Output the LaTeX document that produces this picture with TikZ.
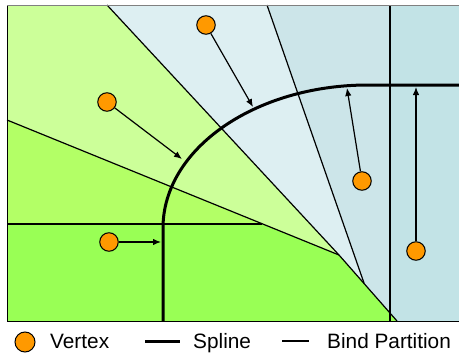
\documentclass[tikz,border=0pt]{standalone}
\usepackage{fontspec}
\setmainfont{Liberation Sans}
\usetikzlibrary{arrows.meta}
\definecolor{gA}{RGB}{204,255,153}
\definecolor{gB}{RGB}{179,255,102}
\definecolor{gC}{RGB}{153,255,85}
\definecolor{bD}{RGB}{221,239,242}
\definecolor{bE}{RGB}{204,229,233}
\definecolor{bF}{RGB}{194,227,230}
\definecolor{vorange}{RGB}{255,153,0}
\begin{document}
\begin{tikzpicture}[x=1pt,y=-1pt,
  part/.style={line width=1.2pt, black},
  splinestyle/.style={line width=3pt, black},
  vtx/.style={circle, draw=black, fill=vorange, line width=1pt, minimum size=18.5pt, inner sep=0pt},
  arr/.style={line width=1.2pt, -{Latex[length=8pt,width=6.5pt]}},
  lbl/.style={anchor=base west, font=\fontsize{20.8}{24}\selectfont, inner sep=0pt}]
\useasboundingbox (0,0) rectangle (459,356);
% regions
\fill[bF] (7,5) rectangle (459,321);
\fill[bE] (267,5) -- (390,5) -- (390,313) -- (364,283) -- cycle;
\fill[bD] (107,5) -- (267,5) -- (364,283) -- (339,255) -- cycle;
\fill[gA] (7,5) -- (107,5) -- (339,255) -- (7,120) -- cycle;
\fill[gB] (7,120) -- (262,224) -- (7,224) -- cycle;
\fill[gC] (7,224) -- (262,224) -- (339,255) -- (397,321) -- (7,321) -- cycle;
% bind partitions
\draw[part] (107,5) -- (339,255);
\draw[part] (7,120) -- (339,255);
\draw[part] (7,224) -- (262,224);
\draw[part] (267,5) -- (364,283);
\draw[part] (339,255) -- (397,321);
\draw[part] (390,5) -- (390,321);
% spline
\draw[splinestyle] (163,321) -- (163,228) .. controls (163,149) and (255,85) .. (368,85) -- (459,85);
% frame
\draw[black, line width=1pt] (459,321) -- (7,321) -- (7,5);
\draw[gray, line width=1pt] (7,5) -- (459,5);
% vertices
\node[vtx] (v1) at (206,25) {};
\node[vtx] (v2) at (107,102) {};
\node[vtx] (v3) at (109,242) {};
\node[vtx] (v4) at (362,181) {};
\node[vtx] (v5) at (416,251) {};
\coordinate (t1) at (253,107);
\coordinate (t2) at (182,159);
\coordinate (t3) at (161,242);
\coordinate (t4) at (347,88);
\coordinate (t5) at (416,87);
\draw[arr] (v1) -- (t1);
\draw[arr] (v2) -- (t2);
\draw[arr] (v3) -- (t3);
\draw[arr] (v4) -- (t4);
\draw[arr] (v5) -- (t5);
% legend
\node[vtx, minimum size=20pt] (lv) at (25,342) {};
\node[lbl] (lvt) at (50,348) {Vertex};
\coordinate (ls1) at (145,341);
\coordinate (ls2) at (180,341);
\draw[splinestyle] (ls1) -- (ls2);
\node[lbl] (lst) at (193,348) {Spline};
\coordinate (lp1) at (282,341);
\coordinate (lp2) at (309,341);
\draw[part] (lp1) -- (lp2);
\node[lbl] (lpt) at (327,348) {Bind Partition};
\end{tikzpicture}
\end{document}
